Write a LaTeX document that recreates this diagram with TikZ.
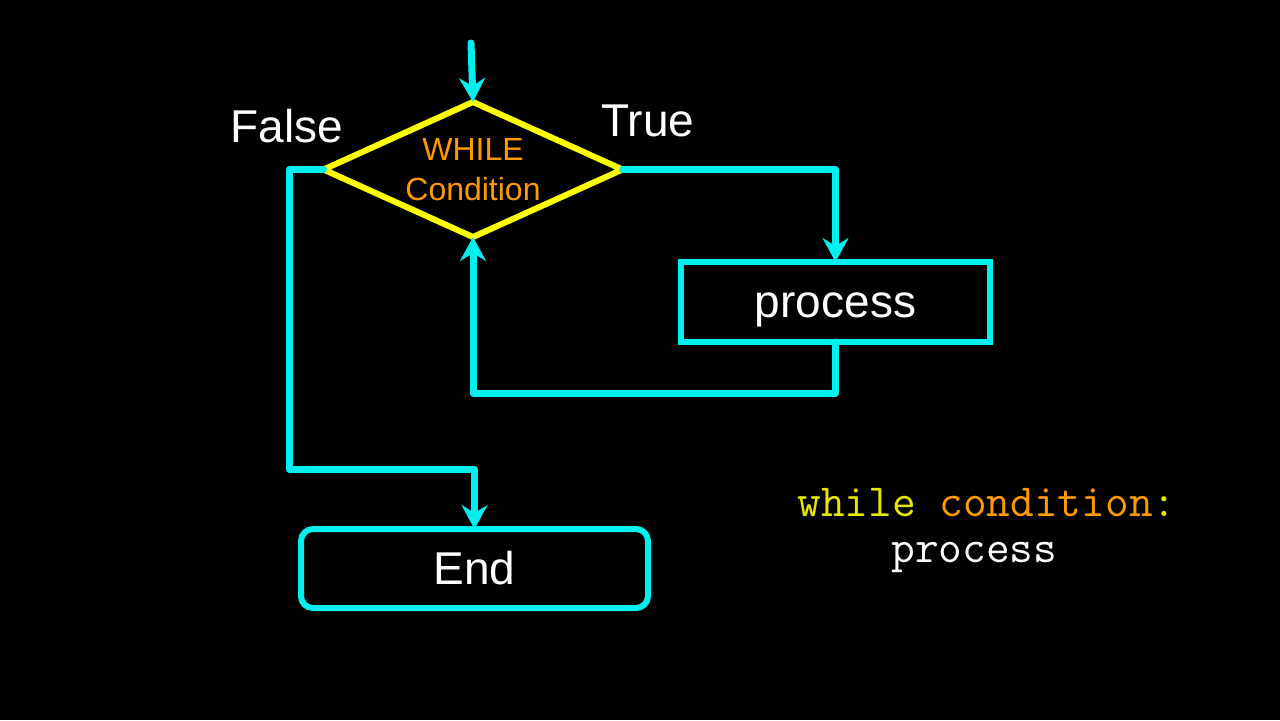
\documentclass[tikz,border=0pt]{standalone}
\usepackage{fontspec}
\setmainfont{Liberation Sans}
\usetikzlibrary{shapes.geometric,arrows.meta}
\definecolor{cyanline}{RGB}{0,240,240}
\definecolor{yel}{RGB}{255,255,0}
\definecolor{org}{RGB}{255,153,0}
\definecolor{codeyel}{RGB}{230,230,0}
\tikzset{
  conn/.style={draw=cyanline, line width=3.5pt, line join=round, line cap=round},
  tip/.style={-{Stealth[length=12pt,width=13pt,inset=4pt]}},
  lbl/.style={text=white, font=\fontsize{23}{27}\selectfont, inner sep=0pt},
  boxst/.style={draw=cyanline, line width=3pt, rectangle, inner sep=0pt, outer sep=0pt, text=white, font=\fontsize{23}{27}\selectfont},
  code/.style={font=\ttfamily\fontsize{23}{27}\selectfont, inner sep=0pt, anchor=base west}
}
\begin{document}
\begin{tikzpicture}[x=0.5pt,y=-0.5pt]
\fill[black] (0,0) rectangle (1280,720);
\useasboundingbox (0,0) rectangle (1280,720);
% diamond
\node[diamond, draw=yel, line width=3pt, minimum width=149.5pt, minimum height=67.5pt, inner sep=0pt, outer sep=0pt] (cond) at (473,169.5) {};
\node[text=org, font=\fontsize{16}{20}\selectfont, align=center, inner sep=0pt] (condtxt) at (473,170) {WHILE\\Condition};
% boxes
\node[boxst, minimum width=154.5pt, minimum height=40pt, text height=15pt, text depth=0pt] (proc) at (835.5,302) {process};
\node[boxst, rounded corners=6pt, minimum width=173.5pt, minimum height=39.5pt] (endb) at (474.5,568.5) {End};
% labels
\node[lbl, anchor=base] (false) at (287,142) {False};
\node[lbl, anchor=base] (true) at (648,136) {True};
% connectors
\coordinate (start) at (471,43);
\coordinate (loopc) at (835.5,393);
\coordinate (fc) at (289,469);
\draw[conn,tip] (start) -- (cond.north);
\draw[conn,tip] (cond.east) -| (proc.north);
\draw[conn,tip] (proc.south) -- (loopc) -| (cond.south);
\draw[conn,tip] (cond.west) -| (fc) -| (endb.north);
% code
\node[code] (code1) at (797,516) {\textcolor{codeyel}{while} \textcolor{org}{condition}\textcolor{codeyel}{:}};
\node[code, text=white] (code2) at (891,562) {process};
\end{tikzpicture}
\end{document}
